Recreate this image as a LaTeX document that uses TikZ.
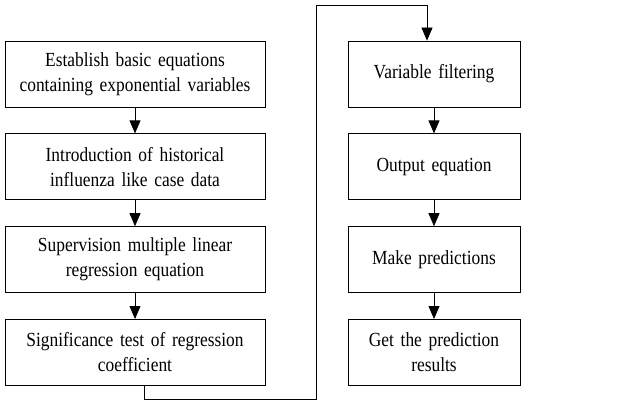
\documentclass[tikz,border=0pt]{standalone}
\usepackage{fontspec}
\setmainfont{Liberation Serif}[FakeStretch=0.87,WordSpace=0.8]
\usetikzlibrary{arrows.meta}
\usetikzlibrary{positioning}

\begin{document}
\begin{tikzpicture}[x=1pt,y=-1pt,node distance=26pt,line width=0.8pt,
	  step box/.style={rectangle,draw,align=center,minimum height=66pt,inner sep=0pt,font=\fontsize{20}{25}\selectfont},
	  left box/.style={step box,minimum width=260pt,text width=250pt},
	  right box/.style={step box,minimum width=172pt,text width=164pt},
	  flow/.style={-{Triangle[width=11pt,length=13pt]}}]
	  \useasboundingbox (0,0) rectangle (621,401);
	  \node[left box] (l1) at (135,74) {Establish basic equations\\containing exponential variables};
	  \node[left box] (l2) [below=of l1] {Introduction of historical\\influenza like case data};
	  \node[left box] (l3) [below=of l2] {Supervision multiple linear\\regression equation};
	  \node[left box] (l4) [below=of l3] {Significance test of regression\\coefficient};
	  \node[right box] (r1) at (434,74) {Variable filtering};
	  \node[right box] (r2) [below=of r1] {Output equation};
	  \node[right box] (r3) [below=of r2] {Make predictions};
	  \node[right box] (r4) [below=of r3] {Get the prediction\\results};
	  \coordinate (low) at (316,399);
	  \coordinate (high) at (316,5);
%
	  \path[flow]
	    (l1) edge (l2)
	    (l2) edge (l3)
	    (l3) edge (l4)
	    (r1) edge (r2)
	    (r2) edge (r3)
	    (r3) edge (r4);
	  \draw[flow] ([xshift=9pt]l4.south) |- (low) -- (high) -| ([xshift=-7pt]r1.north);
	\end{tikzpicture}
\end{document}
